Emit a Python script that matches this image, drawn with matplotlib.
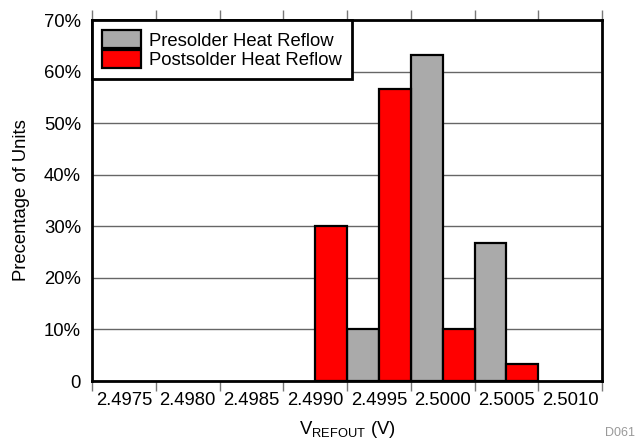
import matplotlib.pyplot as plt
import numpy as np

plt.rcParams['font.family'] = ['Liberation Sans', 'DejaVu Sans']

# bin labels (volts) and percentages
bin_labels = ['2.4975', '2.4980', '2.4985', '2.4990', '2.4995', '2.5000', '2.5005', '2.5010']
pre_bins = ['2.4995', '2.5000', '2.5005']
pre_pct = [10.0, 63.3, 26.7]
post_bins = ['2.4990', '2.4995', '2.5000', '2.5005']
post_pct = [30.0, 56.7, 10.0, 3.3]

fs = 13.3

fig = plt.figure(figsize=(6.38, 4.42), dpi=100)
ax = fig.add_axes([92/638, 1-381/442, 510/638, 361/442])

idx = {b: i for i, b in enumerate(bin_labels)}
# each bin spans [i, i+1]; postsolder bar sits in the right half of its bin,
# presolder bar in the left half of its bin
post_x = np.array([idx[b] + 0.5 for b in post_bins])
pre_x = np.array([idx[b] for b in pre_bins])

ax.bar(pre_x, pre_pct, width=0.5, align='edge', color='#aaaaaa',
       edgecolor='black', linewidth=1.6, label='Presolder Heat Reflow', zorder=3)
ax.bar(post_x, post_pct, width=0.5, align='edge', color='#ff0000',
       edgecolor='black', linewidth=1.6, label='Postsolder Heat Reflow', zorder=3)

ax.set_xlim(0, len(bin_labels))
ax.set_ylim(0, 70)

ax.set_xticks(np.arange(len(bin_labels) + 1))
ax.set_xticklabels([])
ax.set_xticks(np.arange(len(bin_labels)) + 0.5, minor=True)
ax.set_xticklabels(bin_labels, minor=True, fontsize=fs)
ax.tick_params(axis='x', which='major', direction='out', length=7, width=1,
               color='#777777', top=True, bottom=True)
ax.tick_params(axis='x', which='minor', length=0, pad=8)

yt = np.arange(0, 71, 10)
ax.set_yticks(yt)
ax.set_yticklabels(['0'] + ['%d%%' % v for v in yt[1:]], fontsize=fs)
ax.tick_params(axis='y', length=0, pad=8)

ax.yaxis.grid(True, color='#666666', linewidth=1.0, zorder=0)
ax.set_axisbelow(True)

for s in ax.spines.values():
    s.set_linewidth(2)
    s.set_color('black')

ax.set_ylabel('Precentage of Units', fontsize=fs, labelpad=10)
ax.set_xlabel('V$_{\\mathregular{REFOUT}}$ (V)', fontsize=fs, labelpad=7)

leg = ax.legend(loc='upper left', bbox_to_anchor=(0, 1), borderaxespad=0,
                fancybox=False, edgecolor='black', framealpha=1, fontsize=fs,
                handlelength=2.1, handleheight=1.15, handletextpad=0.45,
                labelspacing=0.0, borderpad=0.55)
leg.get_frame().set_linewidth(2)

fig.text(620/638, 1-433/442, 'D061', fontsize=9, color='#999999', ha='center', va='center')

fig.savefig('out.png', dpi=100)
